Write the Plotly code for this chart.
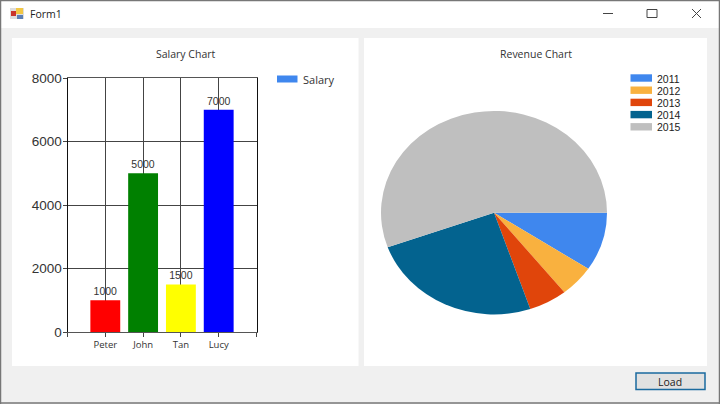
import plotly.graph_objects as go

W, H = 720, 404

# data
names = ["Peter", "John", "Tan", "Lucy"]
salary = [1000, 5000, 1500, 7000]
bar_colors = ["#ff0000", "#008000", "#ffff00", "#0000ff"]
years = ["2011", "2012", "2013", "2014", "2015"]
revenue = [9.3, 5.0, 5.5, 24.7, 55.5]
pie_colors = ["#3f87ee", "#f9b13f", "#e0450b", "#03638f", "#bfbfbf"]
y_ticks = [0, 2000, 4000, 6000, 8000]


# helpers, all window decoration is given in pixels from the top left
def px(x):
    return x / W


def py(y):
    return 1 - y / H


def box(x0, y0, x1, y1, fill, line=None, width=1, layer="below"):
    return dict(type="rect", xref="paper", yref="paper", layer=layer,
                x0=px(x0), y0=py(y0), x1=px(x1), y1=py(y1), fillcolor=fill,
                line=dict(color=line or fill, width=width if line else 0))


def stroke(x0, y0, x1, y1, color="#444444", width=1):
    return dict(type="line", xref="paper", yref="paper", layer="above",
                x0=px(x0), y0=py(y0), x1=px(x1), y1=py(y1),
                line=dict(color=color, width=width))


def label(x, y, text, size=10.5, color="#333333", anchor="left", family="Open Sans"):
    return dict(x=px(x), y=py(y), xref="paper", yref="paper", text=text, showarrow=False,
                xanchor=anchor, yanchor="middle", font=dict(size=size, color=color, family=family))


fig = go.Figure()

fig.add_trace(go.Bar(
    x=[1, 2, 3, 4], y=salary, width=0.79,
    marker=dict(color=bar_colors, line=dict(width=0)),
    text=salary, textposition="outside", cliponaxis=False,
    textfont=dict(size=10.5, color="#333333", family="Liberation Sans"),
    showlegend=False,
))

fig.add_trace(go.Pie(
    labels=years, values=revenue, sort=False, direction="clockwise", rotation=90,
    marker=dict(colors=pie_colors, line=dict(width=0)),
    textinfo="none", showlegend=False,
    domain=dict(x=[px(381), px(607)], y=[py(326), py(100)]),
))

shapes = [
    # window
    box(0, 0, 720, 28, "#ffffff"),
    box(12, 38, 358.5, 366, "#ffffff"),
    box(364, 38, 707, 366, "#ffffff"),
    stroke(0, 0.5, 720, 0.5, "#777777", 1.5),
    stroke(0.5, 0, 0.5, 404, "#777777", 1.5),
    stroke(0, 403, 720, 403, "#777777", 1.5),
    stroke(719.5, 0, 719.5, 404, "#777777", 1.5),
    # icon
    box(10, 8, 24, 19, "#dddddd", layer="above"),
    box(11, 11, 16, 16, "#c8342c", layer="above"),
    box(16, 8, 23, 14, "#f2c744", layer="above"),
    box(17, 15, 23, 19, "#5b7fb5", layer="above"),
    # title bar buttons
    stroke(603, 13.5, 613, 13.5),
    box(647, 9.5, 657, 17.5, "rgba(0,0,0,0)", "#444444", 1, "above"),
    stroke(692, 9, 701, 18),
    stroke(692, 18, 701, 9),
    # load button
    box(636, 373, 705, 389.5, "#e1e1e1", "#1a6a9e", 1.5),
    # salary legend
    box(277, 75.5, 297.5, 82.5, pie_colors[0], layer="above"),
]

annotations = [
    label(27.5, 14, "Form1", 10.5, "#222222"),
    label(186, 53.5, "Salary Chart", 10.5, anchor="center"),
    label(535.5, 53.5, "Revenue Chart", 10.5, anchor="center"),
    label(301, 79.5, "Salary", 11),
    label(669.5, 381.5, "Load", 10.5, "#222222", "center"),
]

# revenue legend
for i, (year, color) in enumerate(zip(years, pie_colors)):
    row = 78 + i * 12.2
    shapes.append(box(630.5, row - 3.7, 652, row + 3.7, color, layer="above"))
    annotations.append(label(655, row + 0.5, year, 10.5, "#222222", family="Liberation Sans"))

fig.update_layout(
    width=W, height=H,
    margin=dict(l=0, r=0, t=0, b=0, pad=0, autoexpand=False),
    paper_bgcolor="#f0f0f0",
    plot_bgcolor="rgba(0,0,0,0)",
    shapes=shapes,
    annotations=annotations,
    xaxis=dict(
        domain=[px(67.5), px(256.5)], range=[0, 5],
        tickmode="array", tickvals=[0, 1, 2, 3, 4, 5], ticktext=[""] + names + [""],
        ticks="outside", ticklen=4, tickcolor="#444444",
        tickfont=dict(size=9.5, color="#333333", family="Open Sans"),
        showgrid=True, gridcolor="#444444", gridwidth=1,
        showline=True, mirror=True, linecolor="#555555", linewidth=1, zeroline=False,
    ),
    yaxis=dict(
        domain=[py(332), py(78)], range=[0, 8000],
        tickmode="array", tickvals=y_ticks,
        ticks="outside", ticklen=4, tickcolor="#444444", ticklabelstandoff=-2,
        tickfont=dict(size=13.5, color="#333333", family="Liberation Sans"),
        showgrid=True, gridcolor="#444444", gridwidth=1,
        showline=True, mirror=True, linecolor="#111111", linewidth=1, zeroline=False,
    ),
)

# the reference pie is a squashed ellipse, plotly only draws circles
squash_pie = """
document.body.style.margin = '0';
document.querySelectorAll('.pielayer').forEach(function (el) {
    el.setAttribute('transform', 'translate(0,212.7) scale(1,0.9) translate(0,-213)');
});
"""

fig.write_html("out.html", config={"displayModeBar": False}, post_script=squash_pie)
